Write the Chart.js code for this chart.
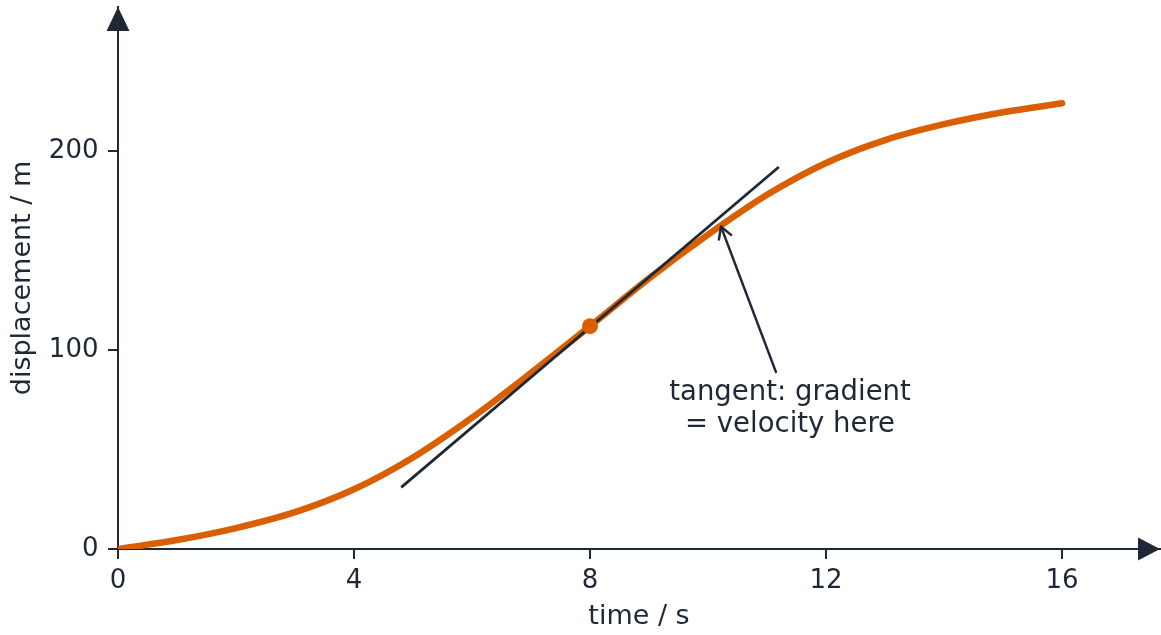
<!DOCTYPE html>
<html>
<head>
<meta charset="utf-8">
<title>displacement-time graph with tangent</title>
<script src="https://cdn.jsdelivr.net/npm/chart.js@4/dist/chart.umd.min.js"></script>
<style>
  html, body { margin: 0; padding: 0; background: #fff; }
  #wrap { width: 1161px; height: 635px; }
</style>
</head>
<body>
<div id="wrap"><canvas id="chart" width="1161" height="635"></canvas></div>
<script>
// ---- data ----
const timeS = [0, 1, 2, 3, 4, 5, 6, 7, 8, 9, 10, 11, 12, 13, 14, 15, 16];
const dispM = [0, 4.5, 10.5, 18.5, 30, 46, 66, 88.5, 112, 136, 158, 178, 194, 205.5, 213.5, 219.5, 224];
const tangentT = [4.8, 11.2];
const tangentS = [31, 192];
const pointT = [8];
const pointS = [112];
const xTicks = [0, 4, 8, 12, 16];
const yTicks = [0, 100, 200];
const noteLines = ["tangent: gradient", "= velocity here"];

// annotation anchors (data units)
const NOTE = { tip: { x: 10.22, y: 162 }, tail: { x: 11.15, y: 89 }, text: { x: 11.39, y: 75 } };

const INK = "#1e2836";
const ORANGE = "#d95f02";
Chart.defaults.font.family = "'DejaVu Sans', sans-serif";
Chart.defaults.color = INK;

const pts = (xs, ys) => xs.map((x, i) => ({ x, y: ys[i] }));

// axis arrowheads + the callout arrow and its text
const extras = {
  id: "extras",
  afterDatasetsDraw(chart) {
    const { ctx, scales: { x, y } } = chart;
    const x0 = x.getPixelForValue(0), y0 = y.getPixelForValue(0);
    const xEnd = x.getPixelForValue(x.max), yEnd = y.getPixelForValue(y.max);
    ctx.save();
    ctx.fillStyle = INK;
    ctx.beginPath();
    ctx.moveTo(xEnd, y0); ctx.lineTo(xEnd - 22, y0 - 11.5); ctx.lineTo(xEnd - 22, y0 + 11.5);
    ctx.closePath(); ctx.fill();
    ctx.beginPath();
    ctx.moveTo(x0, yEnd); ctx.lineTo(x0 - 11.5, yEnd + 24); ctx.lineTo(x0 + 11.5, yEnd + 24);
    ctx.closePath(); ctx.fill();

    // callout arrow
    const tx = x.getPixelForValue(NOTE.tip.x), ty = y.getPixelForValue(NOTE.tip.y);
    const fx = x.getPixelForValue(NOTE.tail.x), fy = y.getPixelForValue(NOTE.tail.y);
    const ang = Math.atan2(ty - fy, tx - fx), h = 13, sp = Math.PI / 6;
    ctx.strokeStyle = INK; ctx.lineWidth = 2.5; ctx.lineCap = "round"; ctx.lineJoin = "round";
    ctx.beginPath(); ctx.moveTo(fx, fy); ctx.lineTo(tx, ty); ctx.stroke();
    ctx.beginPath();
    ctx.moveTo(tx - h * Math.cos(ang - sp), ty - h * Math.sin(ang - sp));
    ctx.lineTo(tx, ty);
    ctx.lineTo(tx - h * Math.cos(ang + sp), ty - h * Math.sin(ang + sp));
    ctx.stroke();

    ctx.font = "27.5px 'DejaVu Sans', sans-serif";
    ctx.textAlign = "center"; ctx.textBaseline = "alphabetic";
    const cx = x.getPixelForValue(NOTE.text.x), cy = y.getPixelForValue(NOTE.text.y);
    noteLines.forEach((t, i) => ctx.fillText(t, cx, cy + i * 32));
    ctx.restore();
  }
};

const axisGrid = { display: true, drawOnChartArea: false, drawTicks: true, tickLength: 10, color: INK, lineWidth: 2 };
const axisBorder = { display: true, color: INK, width: 2 };

new Chart(document.getElementById("chart"), {
  type: "scatter",
  data: {
    datasets: [
      { label: "point", data: pts(pointT, pointS), backgroundColor: ORANGE, borderColor: ORANGE, pointRadius: 8, pointBorderWidth: 0, showLine: false },
      { label: "tangent", data: pts(tangentT, tangentS), borderColor: INK, borderWidth: 2.8, pointRadius: 0, showLine: true, borderCapStyle: "butt" },
      { label: "displacement", data: pts(timeS, dispM), borderColor: ORANGE, borderWidth: 6.5, pointRadius: 0, showLine: true,
        cubicInterpolationMode: "monotone", borderCapStyle: "round", borderJoinStyle: "round" },
    ],
  },
  options: {
    responsive: false,
    animation: false,
    events: [],
    // autoPadding would reserve room for the dot radius on the right
    layout: { autoPadding: false, padding: { top: 7, right: 1, left: 0, bottom: 0 } },
    plugins: { legend: { display: false }, tooltip: { enabled: false } },
    scales: {
      x: {
        type: "linear", min: 0, max: 17.66,
        afterBuildTicks: (s) => { s.ticks = xTicks.map((v) => ({ value: v })); },
        // fixed box so the plot area lines up with the reference
        afterFit: (s) => { s.height = 86; s.paddingLeft = 0; s.paddingRight = 0; },
        grid: axisGrid, border: axisBorder,
        ticks: { font: { size: 26 }, color: INK, padding: 7, maxRotation: 0 },
        title: { display: true, text: "time / s", font: { size: 27 }, color: INK, padding: { top: 0, bottom: 2 } },
      },
      y: {
        type: "linear", min: 0, max: 272.4,
        afterBuildTicks: (s) => { s.ticks = yTicks.map((v) => ({ value: v })); },
        afterFit: (s) => { s.width = 118; s.paddingTop = 0; s.paddingBottom = 0; },
        grid: axisGrid, border: axisBorder,
        ticks: { font: { size: 26 }, color: INK, padding: 9.5 },
        title: { display: true, text: "displacement / m", font: { size: 27 }, color: INK, padding: { top: 6.5, bottom: 0 } },
      },
    },
  },
  plugins: [extras],
});
</script>
</body>
</html>
